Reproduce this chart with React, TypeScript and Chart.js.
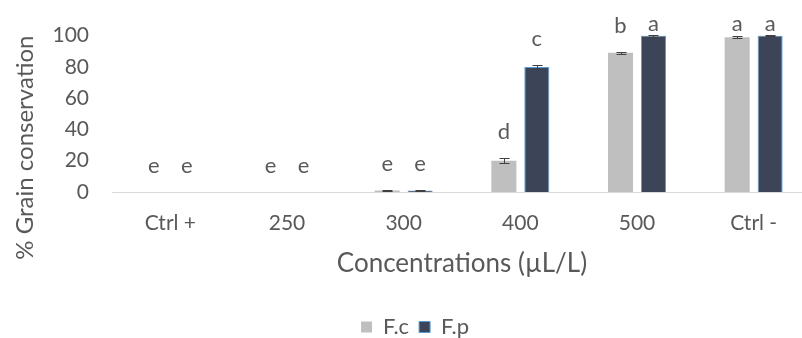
import React, { useEffect, useRef } from 'react';
import { Chart, registerables } from 'chart.js';

Chart.register(...registerables);

const categories = ['Ctrl +', '250', '300', '400', '500', 'Ctrl -'];
const fcValues = [0, 0, 1, 20, 89, 99];
const fpValues = [0, 0, 1, 80, 100, 100];
const fcErrors = [0, 0, 0.5, 1.5, 0.8, 0.8];
const fpErrors = [0, 0, 0.5, 1.5, 0.6, 0.4];
const fcLetters = ['e', 'e', 'e', 'd', 'b', 'a'];
const fpLetters = ['e', 'e', 'e', 'c', 'a', 'a'];
const yTickValues = [0, 20, 40, 60, 80, 100];
const seriesNames = ['F.c', 'F.p'];
const yTitle = '% Grain conservation';
const xTitle = 'Concentrations (µL/L)';

const FONT = 'Lato';
const TEXT = '#595959';

const errorBarPlugin = {
  id: 'errorBars',
  afterDatasetsDraw(chart: any) {
    const ctx = chart.ctx;
    const y = chart.scales.y;
    const errs = [fcErrors, fpErrors];
    ctx.save();
    ctx.strokeStyle = '#404040';
    ctx.lineWidth = 1;
    chart.data.datasets.forEach((ds: any, i: number) => {
      const meta = chart.getDatasetMeta(i);
      meta.data.forEach((el: any, j: number) => {
        const e = errs[i][j];
        if (!e) return;
        const v = ds.data[j];
        const yt = Math.round(y.getPixelForValue(v + e)) + 0.5;
        const yb = Math.round(y.getPixelForValue(Math.max(0, v - e))) + 0.5;
        const x = Math.round(el.x) + 0.5;
        ctx.beginPath();
        ctx.moveTo(x, yt);
        ctx.lineTo(x, yb);
        ctx.moveTo(x - 5, yt);
        ctx.lineTo(x + 5, yt);
        ctx.moveTo(x - 5, yb);
        ctx.lineTo(x + 5, yb);
        ctx.stroke();
      });
    });
    ctx.restore();
  },
};

const lettersPlugin = {
  id: 'letters',
  afterDatasetsDraw(chart: any) {
    const ctx = chart.ctx;
    const y = chart.scales.y;
    const errs = [fcErrors, fpErrors];
    const letters = [fcLetters, fpLetters];
    ctx.save();
    ctx.fillStyle = TEXT;
    ctx.font = `22px ${FONT}`;
    ctx.textAlign = 'center';
    ctx.textBaseline = 'middle';
    chart.data.datasets.forEach((ds: any, i: number) => {
      const meta = chart.getDatasetMeta(i);
      meta.data.forEach((el: any, j: number) => {
        const top = y.getPixelForValue(ds.data[j] + errs[i][j]);
        const ly = Math.max(top - 26, chart.chartArea.top - 12);
        ctx.fillText(letters[i][j], el.x, ly);
      });
    });
    ctx.restore();
  },
};

const yTitlePlugin = {
  id: 'yTitle',
  afterDraw(chart: any) {
    const ctx = chart.ctx;
    ctx.save();
    ctx.fillStyle = TEXT;
    ctx.font = `24px ${FONT}`;
    ctx.textAlign = 'center';
    ctx.textBaseline = 'middle';
    ctx.translate(25, chart.chartArea.top + 112);
    ctx.rotate(-Math.PI / 2);
    ctx.fillText(yTitle, 0, 0);
    ctx.restore();
  },
};

export default function App() {
  const ref = useRef<HTMLCanvasElement>(null);
  useEffect(() => {
    if (!ref.current) return;
    const chart = new Chart(ref.current, {
      type: 'bar',
      data: {
        labels: categories,
        datasets: [
          {
            label: seriesNames[0],
            data: fcValues,
            backgroundColor: '#BFBFBF',
            borderColor: '#BFBFBF',
            borderWidth: 0,
          },
          {
            label: seriesNames[1],
            data: fpValues,
            backgroundColor: '#3B4557',
            borderColor: '#5B9BD5',
            borderWidth: 1,
            borderSkipped: 'start',
          },
        ],
      },
      options: {
        responsive: false,
        animation: false,
        events: [],
        categoryPercentage: 0.565,
        barPercentage: 0.76,
        layout: { padding: { top: 32, right: 18, bottom: 0, left: 18 } },
        scales: {
          x: {
            grid: { display: false, drawTicks: false },
            border: { display: true, color: '#D9D9D9', width: 1 },
            ticks: {
              color: TEXT,
              font: { family: FONT, size: 21 },
              padding: 19,
              maxRotation: 0,
              autoSkip: false,
            },
            title: {
              display: true,
              text: xTitle,
              color: TEXT,
              font: { family: FONT, size: 26 },
              padding: { top: 0, bottom: 27 },
            },
            afterFit: (s: any) => {
              s.height = 114;
            },
          },
          y: {
            min: 0,
            max: 100,
            grid: { display: false, drawTicks: false },
            border: { display: false },
            afterBuildTicks: (s: any) => {
              s.ticks = yTickValues.map((v) => ({ value: v }));
            },
            ticks: {
              color: TEXT,
              font: { family: FONT, size: 21 },
              padding: 23,
            },
            afterFit: (s: any) => {
              s.width = 94;
            },
          },
        },
        plugins: {
          legend: {
            position: 'bottom',
            labels: {
              color: TEXT,
              font: { family: FONT, size: 22 },
              boxWidth: 11,
              boxHeight: 11,
              padding: 10,
            },
          },
          tooltip: { enabled: false },
        },
      },
      plugins: [errorBarPlugin, lettersPlugin, yTitlePlugin],
    });
    return () => chart.destroy();
  }, []);
  return (
    <div style={{ position: 'absolute', left: 0, top: 0, width: 802, height: 338, overflow: 'hidden', background: '#fff' }}>
      <canvas ref={ref} width={830} height={348} style={{ display: 'block' }} />
    </div>
  );
}
